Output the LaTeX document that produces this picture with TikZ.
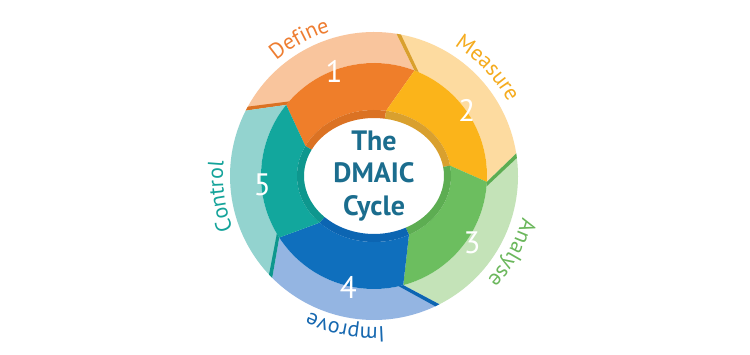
\documentclass[tikz,border=0pt]{standalone}
\usepackage{fontspec}
\setmainfont{PT Sans}
\usetikzlibrary{decorations.text}
\definecolor{opale}{HTML}{F9C59D}\definecolor{oface}{HTML}{EF7E2A}\definecolor{owall}{HTML}{DB7223}\definecolor{otext}{HTML}{EE7D31}
\definecolor{ypale}{HTML}{FDDBA0}\definecolor{yface}{HTML}{FBB41A}\definecolor{ywall}{HTML}{D9A02E}\definecolor{ytext}{HTML}{F5AB1D}
\definecolor{gpale}{HTML}{C4E3B8}\definecolor{gface}{HTML}{6CBE5F}\definecolor{gwall}{HTML}{5DAD52}\definecolor{gtext}{HTML}{6BB75C}
\definecolor{bpale}{HTML}{94B5E2}\definecolor{bface}{HTML}{0F6FBD}\definecolor{bwall}{HTML}{0C65B2}\definecolor{btext}{HTML}{1668B0}
\definecolor{tpale}{HTML}{93D3CF}\definecolor{tface}{HTML}{12A79D}\definecolor{twall}{HTML}{0E978E}\definecolor{ttext}{HTML}{14A39A}
\definecolor{ctext}{HTML}{1B6D8E}
\newcommand{\lblfont}{\fontsize{22}{26}\selectfont}
\tikzset{
  digit/.style={text=white,font=\fontsize{31}{34}\selectfont,inner sep=0pt},
  title/.style={text=ctext,align=center,font=\fontsize{28}{32.5}\selectfont\bfseries,inner sep=0pt},
}
\begin{document}
\begin{tikzpicture}[x=1pt,y=1pt]
\useasboundingbox (0,0) rectangle (750,354);
\fill[white] (0,0) rectangle (750,354);
\begin{scope}[shift={(374,178)}]
\def\Ro{144}\def\Rm{113}\def\dd{12}
\def\Rix{77}\def\Riy{66}\def\Rwx{70}\def\Rwy{58}
\foreach \k/\pc/\fc/\wc in {0/opale/oface/owall,1/ypale/yface/ywall,2/gpale/gface/gwall,3/bpale/bface/bwall,4/tpale/tface/twall}{
  \pgfmathsetmacro\ts{153-72*\k}
  \pgfmathsetmacro\te{81-72*\k}
  \pgfmathsetmacro\tsd{\ts-\dd}
  \pgfmathsetmacro\ted{\te-\dd}
  \pgfmathsetmacro\tsa{\ts-1.8}
  \pgfmathsetmacro\tsb{\tsd-2.3}
  \fill[\pc] (\ts:\Ro) arc[start angle=\ts,end angle=\te,radius=\Ro] -- (\ted:\Rm) arc[start angle=\ted,end angle=\tsd,radius=\Rm] -- cycle;
  \fill[\fc] (\tsd:\Rm) arc[start angle=\tsd,end angle=\ted,radius=\Rm] -- ({\Rix*cos(\te)},{\Riy*sin(\te)}) arc[start angle=\te,end angle=\ts,x radius=\Rix,y radius=\Riy] -- cycle;
  \fill[\wc] ({\Rix*cos(\te)},{\Riy*sin(\te)}) arc[start angle=\te,end angle=\ts,x radius=\Rix,y radius=\Riy] -- ({\Rwx*cos(\ts)},{\Rwy*sin(\ts)}) arc[start angle=\ts,end angle=\te,x radius=\Rwx,y radius=\Rwy] -- cycle;
  \fill[\wc] (\ts:\Ro) -- (\tsd:\Rm) -- (\tsb:\Rm) -- (\tsa:\Ro) -- cycle;
}
\path[decorate,decoration={text along path,text align=center,text color=otext,text={|\lblfont|Define}}] (158.6:151) arc[start angle=158.6,end angle=78.6,radius=151];
\path[decorate,decoration={text along path,text align=center,text color=ytext,text={|\lblfont|Measure}}] (83.5:153) arc[start angle=83.5,end angle=3.5,radius=153];
\path[decorate,decoration={text along path,text align=center,text color=gtext,text={|\lblfont|Analyse}}] (11:154) arc[start angle=11,end angle=-69,radius=154];
\path[decorate,decoration={text along path,text align=center,text color=btext,text={|\lblfont|Improve}}] (-60.7:151) arc[start angle=-60.7,end angle=-140.7,radius=151];
\path[decorate,decoration={text along path,text align=center,text color=ttext,text={|\lblfont|Control}}] (227.7:151) arc[start angle=227.7,end angle=147.7,radius=151];
\node[digit] (n1) at (110.9:112) {1};
\node[digit] (n2) at (35.4:114) {2};
\node[digit] (n3) at (-34.4:119) {3};
\node[digit] (n4) at (-103:114) {4};
\node[digit] (n5) at (-175.4:112) {5};
\node[title] (ttl) at (0,0) {The\\DMAIC\\Cycle};
\end{scope}
\end{tikzpicture}
\end{document}
